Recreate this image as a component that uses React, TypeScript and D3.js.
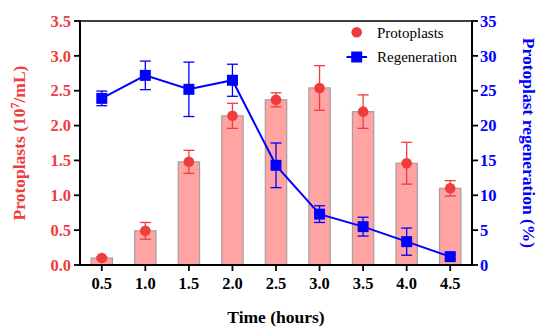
import React from "react";
import * as d3 from "d3";

const times = [0.5, 1.0, 1.5, 2.0, 2.5, 3.0, 3.5, 4.0, 4.5];
const protoplasts = [0.1, 0.49, 1.48, 2.14, 2.37, 2.54, 2.2, 1.46, 1.1];
const protoplastsErr = [0.02, 0.12, 0.165, 0.18, 0.1, 0.32, 0.24, 0.3, 0.11];
const regeneration = [23.9, 27.2, 25.2, 26.5, 14.3, 7.3, 5.5, 3.35, 1.2];
const regenerationErr = [1.05, 2.05, 3.9, 2.3, 3.2, 1.2, 1.35, 1.95, 0.3];
const leftTicks = [0, 0.5, 1.0, 1.5, 2.0, 2.5, 3.0, 3.5];
const rightTicks = [0, 5, 10, 15, 20, 25, 30, 35];

const W = 538, H = 329;
const L = 80, R = 472, T = 21, B = 265;
const RED = "#f03c3c";
const BLUE = "#0000ff";
const FONT = "Liberation Serif";

export default function App() {
  const x = d3.scaleLinear().domain([0.25, 4.75]).range([L, R]);
  const yL = d3.scaleLinear().domain([0, 3.5]).range([B, T]);
  const yR = d3.scaleLinear().domain([0, 35]).range([B, T]);
  const barW = x(0.5 + 0.245) - x(0.5);
  const line = d3.line<number>().x((_, i) => x(times[i])).y((d) => yR(d));
  const cap = 5.5;
  const ts = { fontFamily: FONT };

  return (
    <svg width={W} height={H} style={{ position: "absolute", left: 0, top: 0 }}>
      <rect width={W} height={H} fill="#fff" />
      {protoplasts.map((v, i) => (
        <rect key={"b" + i} x={x(times[i]) - barW / 2} y={yL(v)} width={barW} height={B - yL(v)}
          fill="#ffa3a3" stroke="#a0a0a0" strokeWidth={1.2} />
      ))}
      {protoplasts.map((v, i) => {
        const cx = x(times[i]);
        const t = yL(v + protoplastsErr[i]);
        const b = yL(v - protoplastsErr[i]);
        return (
          <g key={"re" + i} stroke={RED} strokeWidth={1.3}>
            <line x1={cx} x2={cx} y1={t} y2={b} />
            <line x1={cx - cap} x2={cx + cap} y1={t} y2={t} />
            <line x1={cx - cap} x2={cx + cap} y1={b} y2={b} />
          </g>
        );
      })}
      {protoplasts.map((v, i) => (
        <circle key={"c" + i} cx={x(times[i])} cy={yL(v)} r={5.3} fill={RED} />
      ))}
      <path d={line(regeneration) || ""} fill="none" stroke={BLUE} strokeWidth={2} />
      {regeneration.map((v, i) => {
        const cx = x(times[i]);
        const t = yR(v + regenerationErr[i]);
        const b = yR(v - regenerationErr[i]);
        return (
          <g key={"be" + i} stroke={BLUE} strokeWidth={1.3}>
            <line x1={cx} x2={cx} y1={t} y2={b} />
            <line x1={cx - cap} x2={cx + cap} y1={t} y2={t} />
            <line x1={cx - cap} x2={cx + cap} y1={b} y2={b} />
          </g>
        );
      })}
      {regeneration.map((v, i) => (
        <rect key={"s" + i} x={x(times[i]) - 5.5} y={yR(v) - 5.5} width={11} height={11} fill={BLUE} />
      ))}
      <line x1={L} x2={R} y1={T} y2={T} stroke="#000" strokeWidth={1.5} />
      <line x1={L} x2={L} y1={T - 0.75} y2={B + 1} stroke="#000" strokeWidth={2} />
      <line x1={R} x2={R} y1={T - 0.75} y2={B + 1} stroke="#000" strokeWidth={2} />
      <line x1={L - 1} x2={R + 1} y1={B} y2={B} stroke="#000" strokeWidth={2} />
      {leftTicks.map((t) => (
        <g key={"lt" + t}>
          <line x1={L - 6} x2={L} y1={yL(t)} y2={yL(t)} stroke="#000" strokeWidth={1.8} />
          <text style={ts} x={L - 9} y={yL(t)} dy="0.35em" textAnchor="end" fill={RED} fontWeight="bold" fontSize={16.5}>
            {t.toFixed(1)}
          </text>
        </g>
      ))}
      {rightTicks.map((t) => (
        <g key={"rt" + t}>
          <line x1={R} x2={R + 6} y1={yR(t)} y2={yR(t)} stroke="#000" strokeWidth={1.8} />
          <text style={ts} x={R + 8} y={yR(t)} dy="0.35em" textAnchor="start" fill={BLUE} fontWeight="bold" fontSize={16.5}>
            {t}
          </text>
        </g>
      ))}
      {times.map((t) => (
        <g key={"xt" + t}>
          <line x1={x(t)} x2={x(t)} y1={B} y2={B + 6} stroke="#000" strokeWidth={1.8} />
          <text style={ts} x={x(t)} y={B + 24} textAnchor="middle" fill="#000" fontWeight="bold" fontSize={16.5}>
            {t.toFixed(1)}
          </text>
        </g>
      ))}
      <text style={ts} x={(L + R) / 2} y={323} textAnchor="middle" fontWeight="bold" fontSize={17.5} fill="#000">
        Time (hours)
      </text>
      <text style={ts} transform={`translate(25,${(T + B) / 2}) rotate(-90)`} textAnchor="middle" fontWeight="bold" fontSize={17.5} fill={RED}>
        Protoplasts (10<tspan dy={-6} fontSize={12}>7</tspan><tspan dy={6}>/mL)</tspan>
      </text>
      <text style={ts} transform={`translate(523,${(T + B) / 2}) rotate(90)`} textAnchor="middle" fontWeight="bold" fontSize={17.5} fill={BLUE}>
        Protoplast regeneration (%)
      </text>
      <circle cx={356.7} cy={32.3} r={5.3} fill={RED} />
      <text style={ts} x={377} y={37.5} fontSize={15} fill="#000">Protoplasts</text>
      <line x1={346.5} x2={367} y1={57} y2={57} stroke={BLUE} strokeWidth={2} />
      <rect x={351.2} y={51.5} width={11} height={11} fill={BLUE} />
      <text style={ts} x={377} y={62} fontSize={15} fill="#000">Regeneration</text>
    </svg>
  );
}
